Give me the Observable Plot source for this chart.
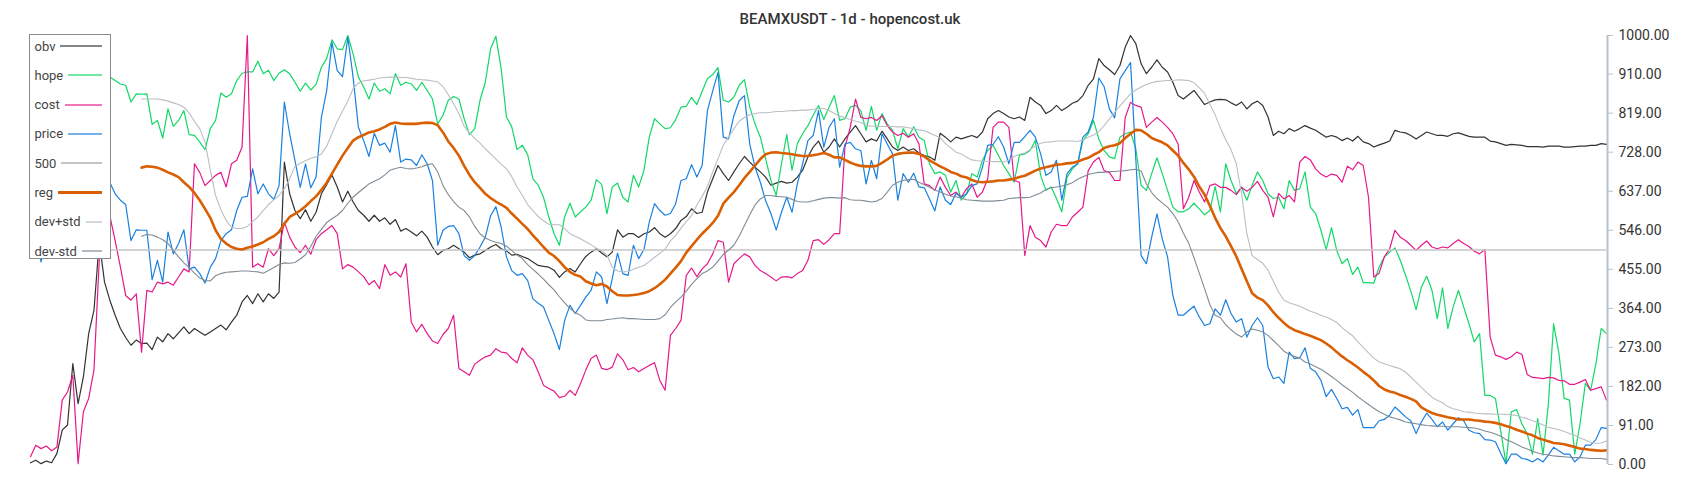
<!DOCTYPE html>
<html><head><meta charset="utf-8">
<script src="https://cdn.jsdelivr.net/npm/d3@7"></script>
<script src="https://cdn.jsdelivr.net/npm/@observablehq/plot@0.6"></script>
<style>
body{margin:0;background:#fff;font-family:Roboto,"DejaVu Sans",sans-serif;}
#wrap{position:relative;width:1700px;height:500px;overflow:hidden;}
#title{position:absolute;left:0;top:10px;width:1700px;text-align:center;font-size:15px;font-weight:500;color:#333;line-height:18px;}
#legend{position:absolute;left:29px;top:34px;width:82px;height:225px;box-sizing:border-box;border:1.5px solid #8a8a8a;background:#fff;}
.row{position:absolute;left:4.5px;right:8.5px;height:18px;display:flex;align-items:center;font-size:13px;color:#444;white-space:nowrap;}
.row .sw{flex:1;margin-left:5px;}
</style></head><body>
<div id="wrap"><div id="chart"></div><div id="title"></div><div id="legend"></div></div>
<script>
const title = "BEAMXUSDT - 1d - hopencost.uk";
const seriesNames = ["obv", "hope", "cost", "price", "500", "reg", "dev+std", "dev-std"];
const yTicks = [0, 91, 182, 273, 364, 455, 546, 637, 728, 819, 910, 1000];
const level = 500;
const bandStart = 21;

const obv = [
4,10,2,8,4,26,80,92,235,142,
204,305,359,520,425,383,348,317,296,278,
290,282,283,268,297,286,305,293,307,321,
305,317,309,301,309,317,325,314,332,348,
379,394,375,398,379,398,387,402,705,631,
592,573,594,567,588,631,652,675,647,612,
637,612,592,581,567,581,567,575,560,571,
544,550,542,533,544,530,507,489,499,503,
511,503,495,482,488,491,499,507,513,503,
498,488,490,485,480,472,464,462,460,453,
436,449,457,449,468,485,495,503,493,484,
495,547,530,538,538,529,538,542,552,538,
530,538,550,569,578,596,585,588,635,666,
697,678,662,682,701,718,705,693,682,670,
651,656,660,656,658,670,686,717,740,754,
728,740,759,740,759,775,790,771,752,759,
754,777,759,740,732,740,732,736,726,720,
717,709,772,763,752,763,759,763,767,762,
775,806,818,825,818,810,806,810,802,856,
845,837,818,825,837,825,833,842,847,860,
884,899,946,930,920,909,930,973,1000,981,
934,911,926,943,926,915,891,860,852,862,
872,856,839,845,850,851,850,843,837,845,
829,841,847,837,810,767,777,771,783,777,
783,790,784,779,771,763,767,763,755,761,
754,765,752,748,740,745,749,754,779,775,
773,767,759,767,775,771,767,767,765,771,
773,769,765,763,763,763,754,752,748,744,
746,745,744,741,741,741,740,742,742,742,
740,740,741,742,742,744,744,748,746];

const hope = [
880,900,890,910,895,920,905,890,910,900,880,905,920,910,900,
903,895,887,884,845,
864,863,864,793,802,761,829,788,802,825,
769,767,752,734,783,802,866,856,864,895,
912,915,915,940,911,919,895,912,920,911,
891,870,889,873,886,926,946,990,969,967,
1000,957,903,880,852,889,870,876,864,911,
884,891,887,872,891,872,852,794,814,849,
858,852,806,769,783,849,891,969,998,922,
810,787,734,744,723,666,651,623,577,538,
511,577,609,577,589,
600,616,664,653,585,
647,656,623,612,674,647,686,763,806,794,
783,785,804,833,835,856,839,870,899,909,
925,849,845,856,884,897,833,794,763,713,
662,627,701,769,686,748,771,790,814,837,
804,833,860,
802,806,833,837,825,779,835,
779,818,794,779,736,783,763,787,763,755,
701,678,682,674,635,662,616,631,678,670,
709,732,744,721,697,678,658,721,724,732,
755,674,639,647,620,589,670,689,701,755,
771,802,759,732,717,713,
763,771,775,736,
651,639,678,715,678,639,600,589,589,596,
609,596,582,592,648,589,701,662,631,647,
616,651,682,662,631,620,623,596,662,639,
643,682,600,585,546,501,552,499,468,480,
443,460,424,424,423,460,484,495,505,
476,441,404,
361,414,439,406,340,412,317,367,
406,367,328,286,305,161,161,154,78,2,
123,128,95,72,24,107,22,140,328,259,
154,150,24,95,189,173,235,317,305];

const cost = [
18,45,37,43,32,41,150,169,208,2,
123,154,220,476,640,580,522,460,394,383,
398,262,406,402,425,421,425,418,437,456,
449,701,681,650,662,674,681,647,701,709,
740,1000,460,468,460,503,487,503,565,530,
507,494,511,490,524,538,547,557,538,456,
466,460,449,438,419,429,410,466,441,449,
437,468,332,309,327,305,288,282,303,317,
348,224,216,208,234,243,251,255,270,262,
260,247,237,272,255,244,216,185,177,171,
156,159,173,161,189,
220,247,255,224,221,
227,258,244,221,226,216,224,231,237,196,
173,301,317,336,441,458,438,456,468,491,
522,518,425,468,480,491,484,464,452,445,
437,428,437,438,435,445,452,476,522,524,
513,524,538,
538,740,786,852,809,806,809,
802,813,790,775,767,772,763,771,747,654,
650,639,670,646,627,635,623,643,654,623,
635,666,786,798,798,786,662,658,487,557,
530,522,507,542,560,557,557,577,588,600,
685,705,716,685,681,662,
662,809,844,837,
833,786,798,809,798,786,771,747,596,623,
662,635,612,650,654,646,646,639,629,646,
637,646,660,639,623,577,632,619,627,612,
705,718,710,689,677,670,677,674,658,695,
687,705,697,623,437,446,484,503,546,
530,522,511,499,511,521,507,503,507,505,515,
524,515,508,497,491,501,297,255,251,245,
251,262,257,210,203,202,200,203,202,196,
195,187,187,192,198,173,177,181,150];

const price = [
620,540,472,530,560,600,640,620,680,650,700,680,720,700,690,
658,631,616,606,522,
547,546,546,431,476,425,542,491,515,547,
456,460,445,423,460,480,522,538,547,592,
623,625,689,631,654,631,618,650,845,771,
709,646,701,645,670,809,871,984,918,904,
996,903,786,755,718,772,744,749,728,790,
705,712,710,697,722,701,662,511,546,555,
557,538,487,476,487,507,530,580,601,553,
484,452,441,445,429,386,376,367,336,305,
268,336,371,352,371,
390,406,449,437,375,
433,493,445,441,511,480,501,565,608,592,
581,585,608,662,666,699,670,697,825,871,
914,763,759,813,848,860,747,693,658,615,
585,547,588,623,588,654,701,755,767,825,
740,786,806,
693,747,751,736,732,654,709,
666,771,747,724,616,678,658,679,647,645,
619,591,647,616,606,632,623,631,650,654,
693,744,746,764,740,701,751,751,764,779,
763,724,674,682,709,616,678,693,701,763,
775,810,901,881,829,808,
899,918,937,712,
487,468,530,584,526,484,394,348,348,359,
369,344,324,328,363,348,384,352,332,340,
297,324,342,324,227,200,204,189,262,247,
249,272,224,216,196,158,175,154,130,133,
115,128,86,86,86,102,105,115,134,
123,111,102,72,99,120,105,88,99,80,95,
109,102,80,74,72,58,57,53,26,2,
24,24,14,12,6,14,6,22,40,32,
24,24,6,18,45,45,58,86,84];

// reg, dev+std, dev-std begin at day bandStart
const reg = [
692,695,694,692,687,681,676,670,658,
647,633,616,596,575,546,526,515,507,503,
501,505,508,513,518,526,532,542,561,577,
584,592,602,614,625,640,657,678,699,720,
738,755,763,768,774,777,781,787,794,797,
795,794,794,794,796,797,796,791,774,753,
738,720,696,675,658,645,631,621,613,606,
598,585,573,561,549,534,521,507,494,486,
474,460,449,442,438,427,422,418,421,415,
404,395,394,394,395,397,400,404,411,420,
431,445,459,474,494,509,524,538,550,563,
580,608,622,635,651,668,682,697,712,723,
727,728,726,725,723,721,719,719,721,723,
726,722,716,716,710,704,699,696,695,695,
696,703,711,720,724,726,727,727,724,718,
709,702,695,689,682,678,672,669,663,659,
658,659,660,662,662,664,666,670,673,679,
685,690,693,696,699,700,702,703,706,711,
715,722,728,738,742,744,749,761,771,780,
779,771,761,756,751,744,732,720,703,688,
671,648,629,603,575,551,532,509,485,456,
427,399,389,383,371,355,342,330,320,313,
309,304,300,295,290,282,273,262,252,243,
235,226,216,207,196,183,175,170,167,
162,158,153,147,133,126,120,116,113,110,108,
105,105,105,103,102,100,99,97,94,90,
86,81,77,72,68,62,58,54,50,49,
47,44,41,37,36,34,33,32,33];

const devPlus = [
852,852,852,852,850,847,843,839,833,
819,800,783,752,686,627,594,569,553,550,
550,555,566,577,592,606,617,627,643,666,
695,702,708,714,717,724,742,771,800,824,
847,876,889,894,896,898,901,902,903,903,
902,902,900,898,897,896,894,892,881,862,
841,818,788,773,760,749,736,724,712,700,
689,671,647,627,606,592,578,568,560,559,
559,550,538,532,526,519,512,504,498,488,
460,451,449,450,455,460,464,473,483,492,
502,521,534,551,566,580,605,625,648,682,
713,744,763,783,800,809,815,818,820,820,
821,823,823,824,825,825,826,826,828,830,
830,825,818,812,809,804,800,797,790,789,
788,788,788,788,787,787,785,783,780,778,
773,767,762,748,738,728,724,716,710,708,
707,707,706,706,705,710,718,723,726,734,
743,749,751,752,754,754,754,754,753,757,
763,768,776,790,805,821,836,850,864,873,
880,886,890,893,894,895,895,897,896,895,
890,878,865,840,815,784,757,734,701,631,
538,487,478,469,453,427,402,383,377,373,
369,363,357,353,348,344,338,331,319,309,
300,286,273,260,248,239,235,231,227,
223,215,204,192,180,168,157,150,144,135,130,
127,123,122,120,119,118,118,117,117,117,
116,114,110,107,102,98,92,87,84,81,
77,72,68,62,57,52,49,50,55];

const devMinus = [
532,536,535,530,524,515,499,484,470,
459,446,435,429,428,440,445,448,449,450,
451,451,450,449,446,452,459,466,470,469,
471,479,489,508,532,548,564,573,581,592,
609,623,634,644,654,660,666,675,686,690,
693,690,689,691,694,699,701,682,650,629,
613,600,592,577,555,538,528,522,518,515,
509,499,488,480,466,455,444,432,419,407,
391,377,364,354,348,337,335,335,335,338,
339,341,342,340,340,339,338,338,338,340,
349,366,379,390,404,420,433,445,451,460,
474,490,500,511,532,557,582,605,619,627,
627,625,624,623,618,613,612,612,615,618,
621,622,622,621,622,617,616,616,614,612,
614,620,635,651,658,662,664,665,658,652,
646,640,635,630,626,624,621,617,616,615,
614,614,614,615,616,620,621,622,622,623,
628,633,641,645,647,649,652,657,665,671,
676,679,681,681,683,683,684,685,687,688,
684,654,634,620,610,600,585,566,539,516,
482,446,410,373,348,342,326,314,304,297,
309,316,313,309,301,289,277,264,257,252,
248,239,234,228,222,214,205,196,186,177,
168,158,149,140,131,123,117,111,108,
104,99,97,95,93,91,90,89,89,88,88,
88,87,86,85,82,78,75,71,66,58,
53,47,41,36,31,27,24,22,20,19,
18,17,16,16,15,14,14,14,12];

const colors = {"obv":"#333333","hope":"#12d867","cost":"#e6198a","price":"#1a80e0","500":"#c4c4c4","reg":"#d95f02","dev+std":"#b9bfc5","dev-std":"#808c95"};
const widths = {"obv":1.2,"hope":1.2,"cost":1.2,"price":1.2,"500":1.5,"reg":2.6,"dev+std":1.1,"dev-std":1.1};
const legendOpacity = {"obv":0.6,"hope":0.6,"cost":0.6,"price":0.6,"500":1,"reg":1,"dev+std":0.6,"dev-std":0.6};

const lastDay = obv.length - 1;
const toRows = (arr, start) => arr.map((v, i) => ({d: start + i, v}));
const lineData = [
  ["obv", toRows(obv, 0)],
  ["hope", toRows(hope, 0)],
  ["cost", toRows(cost, 0)],
  ["price", toRows(price, 0)],
  ["reg", toRows(reg, bandStart)],
  ["dev+std", toRows(devPlus, bandStart)],
  ["dev-std", toRows(devMinus, bandStart)]
];

const marks = [];
for (const [name, rows] of lineData.slice(0, 4)) {
  marks.push(Plot.line(rows, {x: "d", y: "v", stroke: colors[name], strokeWidth: widths[name]}));
}
marks.push(Plot.ruleY([level], {stroke: colors["500"], strokeWidth: widths["500"]}));
for (const [name, rows] of lineData.slice(4)) {
  marks.push(Plot.line(rows, {x: "d", y: "v", stroke: colors[name], strokeWidth: widths[name]}));
}
marks.push(Plot.ruleX([lastDay], {stroke: "#b7c2ca", strokeWidth: 2, dx: 1}));
marks.push(Plot.axisY({anchor: "right", ticks: yTicks, tickFormat: d => d.toFixed(2), tickSize: 5, tickPadding: 6, stroke: "#b7c2ca", fill: "#333", label: null, dx: 1}));

const chart = Plot.plot({
  width: 1700, height: 500,
  marginLeft: 30, marginRight: 94, marginTop: 35, marginBottom: 36,
  x: {domain: [0, lastDay], axis: null},
  y: {domain: [0, 1000]},
  style: {fontFamily: "Roboto, 'DejaVu Sans', sans-serif", fontSize: "14px", background: "#fff", color: "#333"},
  marks
});
document.getElementById("chart").appendChild(chart);
document.getElementById("title").textContent = title;

const legend = document.getElementById("legend");
seriesNames.forEach((name, i) => {
  const row = document.createElement("div");
  row.className = "row";
  row.style.top = (2 + i * 29.3) + "px";
  const lab = document.createElement("span");
  lab.textContent = name;
  const sw = document.createElement("div");
  sw.className = "sw";
  sw.style.height = (name === "reg" ? 3 : 2) + "px";
  sw.style.background = colors[name];
  sw.style.opacity = legendOpacity[name];
  row.appendChild(lab); row.appendChild(sw);
  legend.appendChild(row);
});
</script>
</body></html>
